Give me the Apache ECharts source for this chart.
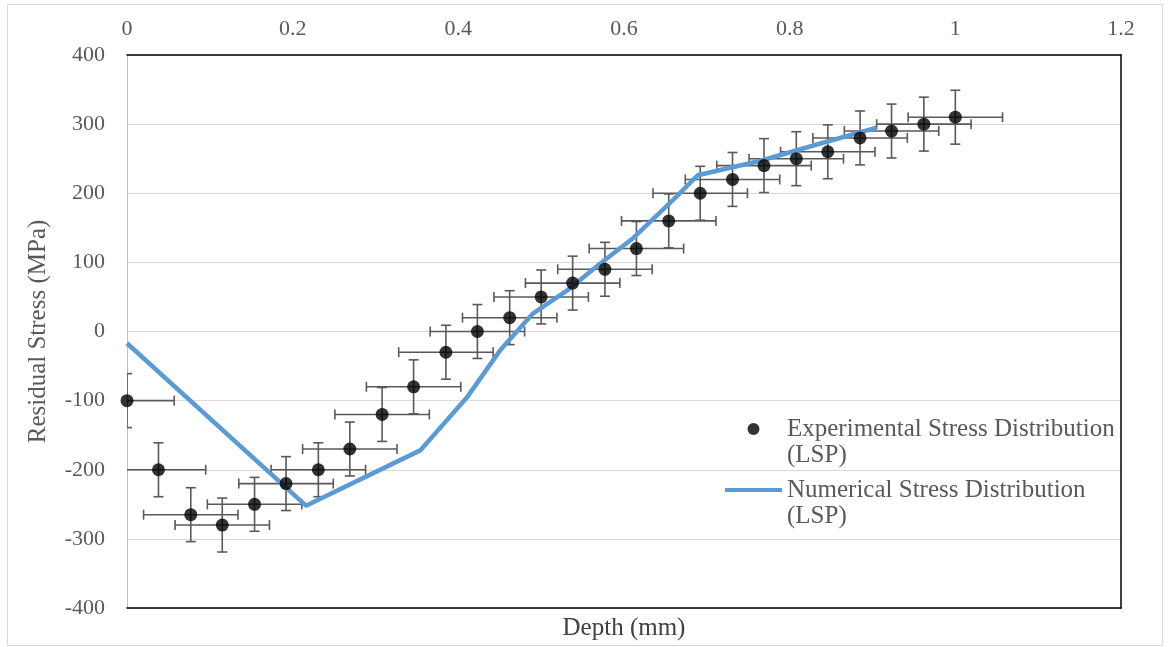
<!DOCTYPE html>
<html>
<head>
<meta charset="utf-8">
<script src="https://cdn.jsdelivr.net/npm/echarts@6/dist/echarts.min.js"></script>
<style>html,body{margin:0;padding:0;background:#fff;}#c{width:1169px;height:647px;}</style>
</head>
<body>
<div id="c"></div>
<script>
// Experimental data
const expDepth = [0, 0.038, 0.077, 0.115, 0.154, 0.192, 0.231, 0.269, 0.308, 0.346, 0.385, 0.423, 0.462, 0.5, 0.538, 0.577, 0.615, 0.654, 0.692, 0.731, 0.769, 0.808, 0.846, 0.885, 0.923, 0.962, 1.0];
const expStress = [-100, -200, -265, -280, -250, -220, -200, -170, -120, -80, -30, 0, 20, 50, 70, 90, 120, 160, 200, 220, 240, 250, 260, 280, 290, 300, 310];
const expDepthErr = [0.057, 0.057, 0.057, 0.057, 0.057, 0.057, 0.057, 0.057, 0.057, 0.057, 0.057, 0.057, 0.057, 0.057, 0.057, 0.057, 0.057, 0.057, 0.057, 0.057, 0.057, 0.057, 0.057, 0.057, 0.057, 0.057, 0.057];
const expStressErr = [39, 39, 39, 39, 39, 39, 39, 39, 39, 39, 39, 39, 39, 39, 39, 39, 39, 39, 39, 39, 39, 39, 39, 39, 39, 39, 39];
// Numerical data
const numDepth = [0, 0.216, 0.354, 0.41, 0.45, 0.49, 0.531, 0.571, 0.611, 0.659, 0.689, 0.765, 0.837, 0.905];
const numStress = [-17, -252, -172, -96, -28, 26, 59, 98, 135, 190, 226, 247, 272, 295];
// Axis ticks
const xTicks = [0, 0.2, 0.4, 0.6, 0.8, 1, 1.2];
const yTicks = [-400, -300, -200, -100, 0, 100, 200, 300, 400];

const expName = 'Experimental Stress Distribution\n(LSP)';
const numName = 'Numerical Stress Distribution\n(LSP)';
const font = '"Liberation Serif", "DejaVu Serif", serif';
const gray = '#595959';

const expData = expDepth.map((d, i) => [d, expStress[i]]);
const errData = expDepth.map((d, i) => [d, expStress[i], expDepthErr[i], expStressErr[i]]);
const numData = numDepth.map((d, i) => [d, numStress[i]]);

const chart = echarts.init(document.getElementById('c'), null, {renderer: 'canvas'});
chart.setOption({
  backgroundColor: '#fff',
  animation: false,
  graphic: [{
    type: 'rect', shape: {x: 7.5, y: 4.5, width: 1155, height: 641},
    style: {fill: 'none', stroke: '#d9d9d9', lineWidth: 1}, silent: true, z: -1
  }],
  grid: {left: 127, right: 48, top: 55, bottom: 39, outerBoundsMode: 'none', containLabel: false},
  legend: {
    orient: 'vertical', left: 725, top: 390, padding: 0,
    itemWidth: 57, itemHeight: 12, itemGap: -17,
    symbolKeepAspect: true,
    data: [{name: expName, icon: 'circle'}, {name: numName, icon: 'path://M0,0h57v4h-57z'}],
    formatter: name => '\n' + name,
    textStyle: {fontFamily: font, fontSize: 25, color: gray, lineHeight: 26}
  },
  xAxis: [{
    type: 'value', position: 'top', min: 0, max: 1.2, interval: 0.2,
    axisLine: {show: true, onZero: false, lineStyle: {color: '#000', width: 1.5}},
    axisTick: {show: false}, splitLine: {show: false},
    axisLabel: {fontFamily: font, fontSize: 22, color: gray, margin: 15,
      formatter: v => String(parseFloat(v.toFixed(1)))}
  }, {
    type: 'value', position: 'bottom', min: 0, max: 1.2, interval: 0.2,
    axisLine: {show: true, onZero: false, lineStyle: {color: '#000', width: 1.5}},
    axisTick: {show: false}, splitLine: {show: false}, axisLabel: {show: false},
    name: 'Depth (mm)', nameLocation: 'middle', nameGap: 8, nameMoveOverlap: false,
    nameTextStyle: {fontFamily: font, fontSize: 25, color: '#404040'}
  }],
  yAxis: [{
    type: 'value', min: -400, max: 400, interval: 100,
    axisLine: {show: true, onZero: false, lineStyle: {color: '#bfbfbf', width: 1}},
    axisTick: {show: false},
    splitLine: {show: true, lineStyle: {color: '#d9d9d9', width: 1}},
    axisLabel: {fontFamily: font, fontSize: 22, color: gray, margin: 22},
    name: 'Residual Stress (MPa)', nameLocation: 'middle', nameGap: 76, nameMoveOverlap: false,
    nameTextStyle: {fontFamily: font, fontSize: 25, color: gray}
  }, {
    type: 'value', position: 'right', min: -400, max: 400, interval: 100,
    axisLine: {show: true, onZero: false, lineStyle: {color: '#000', width: 1.5}},
    axisTick: {show: false}, splitLine: {show: false}, axisLabel: {show: false}
  }],
  series: [{
    name: 'errors', type: 'custom', clip: true, z: 2,
    data: errData,
    renderItem: function (params, api) {
      const x = api.value(0), y = api.value(1), ex = api.value(2), ey = api.value(3);
      const c = api.coord([x, y]);
      const l = api.coord([x - ex, y]), r = api.coord([x + ex, y]);
      const t = api.coord([x, y + ey]), b = api.coord([x, y - ey]);
      const cap = 5;
      const st = {stroke: '#595959', lineWidth: 1.6, fill: 'none'};
      return {
        type: 'group',
        children: [
          {type: 'line', shape: {x1: l[0], y1: c[1], x2: r[0], y2: c[1]}, style: st},
          {type: 'line', shape: {x1: l[0], y1: c[1] - cap, x2: l[0], y2: c[1] + cap}, style: st},
          {type: 'line', shape: {x1: r[0], y1: c[1] - cap, x2: r[0], y2: c[1] + cap}, style: st},
          {type: 'line', shape: {x1: c[0], y1: t[1], x2: c[0], y2: b[1]}, style: st},
          {type: 'line', shape: {x1: c[0] - cap, y1: t[1], x2: c[0] + cap, y2: t[1]}, style: st},
          {type: 'line', shape: {x1: c[0] - cap, y1: b[1], x2: c[0] + cap, y2: b[1]}, style: st}
        ]
      };
    }
  }, {
    name: numName, type: 'line', data: numData, symbol: 'none', z: 3,
    lineStyle: {color: '#5b9bd5', width: 4.5}, itemStyle: {color: '#5b9bd5'}
  }, {
    name: expName, type: 'scatter', data: expData, symbol: 'circle', symbolSize: 13, z: 4,
    itemStyle: {color: '#000'}
  }]
});
</script>
</body>
</html>
